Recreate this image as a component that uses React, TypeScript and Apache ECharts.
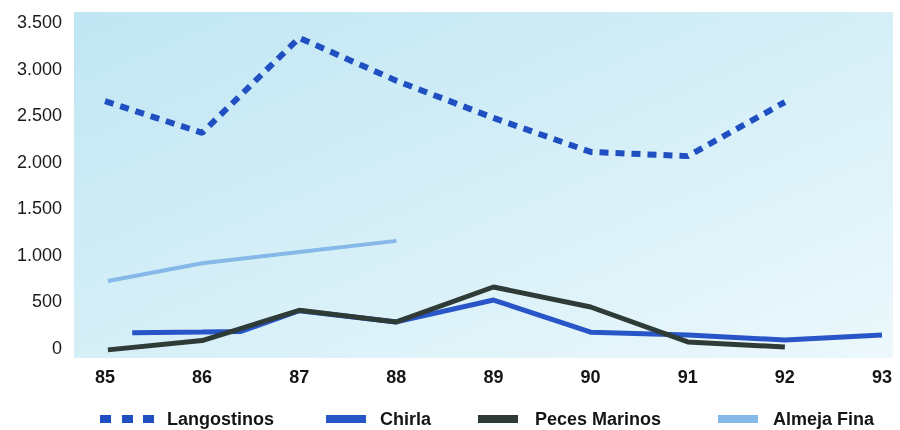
import React, { useEffect, useRef } from "react";
import * as echarts from "echarts";

const years = [85, 86, 87, 88, 89, 90, 91, 92, 93];
const yTicks = [0, 500, 1000, 1500, 2000, 2500, 3000, 3500];

const langostinosYears = [85, 86, 87, 88, 89, 90, 91, 92];
const langostinos = [2650, 2310, 3330, 2870, 2470, 2105, 2060, 2640];

const chirlaYears = [85.28, 86, 86.4, 87, 88, 89, 90, 91, 92, 93];
const chirla = [165, 172, 178, 400, 280, 515, 170, 140, 86, 140];

const pecesYears = [85.03, 86, 87, 88, 89, 90, 91, 92];
const peces = [-20, 80, 405, 280, 655, 440, 65, 10];

const almejaYears = [85.03, 86, 87, 88];
const almeja = [720, 910, 1030, 1150];

const seriesNames = ["Langostinos", "Chirla", "Peces Marinos", "Almeja Fina"];
const colors = ["#1f4fc0", "#2855c7", "#2f3b36", "#86b8e8"];

const pair = (xs: number[], ys: number[]) => xs.map((x, i) => [x, ys[i]]);

export default function App() {
  const ref = useRef<HTMLDivElement>(null);
  useEffect(() => {
    if (!ref.current) return;
    const chart = echarts.init(ref.current, null, { renderer: "svg" });
    const font = "'Liberation Sans', Arial, sans-serif";
    const legendY = 419;
    const legendText = (x: number, t: string) => ({
      type: "text",
      x,
      y: legendY,
      z: 10,
      style: {
        text: t,
        fill: "#151515",
        font: `bold 18px ${font}`,
        textVerticalAlign: "middle",
        verticalAlign: "middle",
      },
    });
    const legendBar = (x: number, w: number, color: string) => ({
      type: "rect",
      z: 10,
      shape: { x, y: legendY - 4, width: w, height: 8 },
      style: { fill: color },
    });
    chart.setOption({
      animation: false,
      grid: { left: 105, right: 18, top: 22, bottom: 82 },
      graphic: [
        {
          type: "rect",
          z: -10,
          shape: { x: 74, y: 12, width: 819, height: 346 },
          style: {
            fill: new echarts.graphic.LinearGradient(0, 0, 1, 1, [
              { offset: 0, color: "#bfe6f3" },
              { offset: 1, color: "#ecf8fc" },
            ]),
          },
        },
        legendBar(100, 11, colors[0]),
        legendBar(122, 11, colors[0]),
        legendBar(143, 11, colors[0]),
        legendText(167, seriesNames[0]),
        legendBar(326, 40, colors[1]),
        legendText(380, seriesNames[1]),
        legendBar(478, 40, colors[2]),
        legendText(535, seriesNames[2]),
        legendBar(718, 40, colors[3]),
        legendText(773, seriesNames[3]),
      ],
      xAxis: {
        type: "value",
        min: years[0],
        max: years[years.length - 1],
        interval: 1,
        axisLine: { show: false },
        axisTick: { show: false },
        splitLine: { show: false },
        axisLabel: {
          margin: 20,
          fontSize: 18,
          fontWeight: "bold",
          fontFamily: font,
          color: "#151515",
          formatter: (v: number) => (years.includes(v) ? String(v) : ""),
        },
      },
      yAxis: {
        type: "value",
        min: yTicks[0],
        max: yTicks[yTicks.length - 1],
        interval: 500,
        axisLine: { show: false },
        axisTick: { show: false },
        splitLine: { show: false },
        axisLabel: {
          margin: 43,
          fontSize: 18,
          fontFamily: font,
          color: "#1a1a1a",
          formatter: (v: number) =>
            String(v).replace(/\B(?=(\d{3})+(?!\d))/g, "."),
        },
      },
      series: [
        {
          name: seriesNames[3],
          type: "line",
          data: pair(almejaYears, almeja),
          showSymbol: false,
          clip: false,
          lineStyle: { color: colors[3], width: 4 },
          z: 2,
        },
        {
          name: seriesNames[1],
          type: "line",
          data: pair(chirlaYears, chirla),
          showSymbol: false,
          clip: false,
          lineStyle: { color: colors[1], width: 5 },
          z: 3,
        },
        {
          name: seriesNames[2],
          type: "line",
          data: pair(pecesYears, peces),
          showSymbol: false,
          clip: false,
          lineStyle: { color: colors[2], width: 5 },
          z: 4,
        },
        {
          name: seriesNames[0],
          type: "line",
          data: pair(langostinosYears, langostinos),
          showSymbol: false,
          clip: false,
          lineStyle: { color: colors[0], width: 6, type: [9, 7] },
          z: 5,
        },
      ],
    });
    return () => chart.dispose();
  }, []);
  return (
    <div
      ref={ref}
      style={{ position: "fixed", left: 0, top: 0, width: 900, height: 430 }}
    />
  );
}
